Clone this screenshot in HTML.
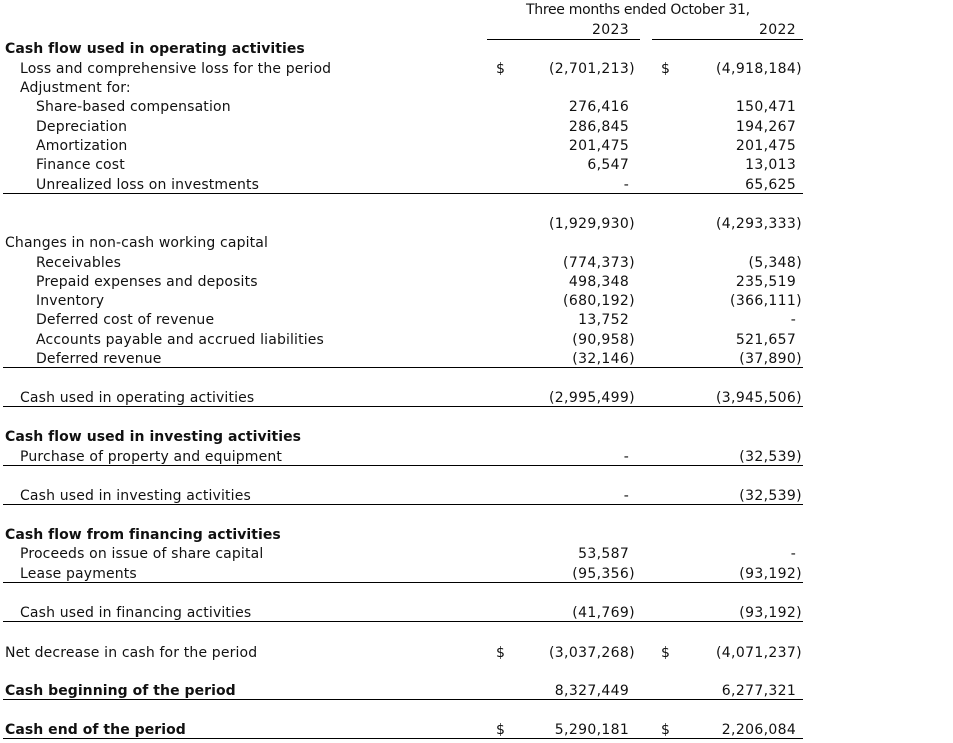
<!DOCTYPE html>
<html><head><meta charset="utf-8"><style>
body{margin:0;width:953px;height:743px;background:#fff;position:relative;overflow:hidden;font-family:"DejaVu Sans","Liberation Sans",sans-serif;font-size:14px;letter-spacing:0.15px;color:#111}
.t{position:absolute;height:19px;line-height:19px;white-space:nowrap;margin-top:1px}
.b{font-weight:bold;letter-spacing:0.05px}
.r1,.r2{position:absolute;height:19px;line-height:19px;white-space:nowrap;margin-top:1px;letter-spacing:0.35px}
.r1{right:318px}
.r2{right:151px}
.h{visibility:hidden}
.l{position:absolute;height:1px;background:#000;left:3px;width:800px}
</style></head><body>
<div class="t" style="left:526px;top:0;letter-spacing:-0.3px">Three months ended October 31,</div>
<div class="r1" style="top:20px;right:324px">2023</div>
<div class="r2" style="top:20px;right:157px">2022</div>
<div class="l" style="top:39px;left:487px;width:153px"></div>
<div class="l" style="top:39px;left:652px;width:151px"></div>

<div class="t b" style="left:5px;top:39px">Cash flow used in operating activities</div>
<div class="t" style="left:20px;top:59px">Loss and comprehensive loss for the period</div>
<div class="t" style="left:496px;top:59px">$</div><div class="r1" style="top:59px">(2,701,213)</div>
<div class="t" style="left:661px;top:59px">$</div><div class="r2" style="top:59px">(4,918,184)</div>
<div class="t" style="left:20px;top:78px">Adjustment for:</div>
<div class="t" style="left:36px;top:97px">Share-based compensation</div><div class="r1" style="top:97px">276,416<span class="h">)</span></div><div class="r2" style="top:97px">150,471<span class="h">)</span></div>
<div class="t" style="left:36px;top:117px">Depreciation</div><div class="r1" style="top:117px">286,845<span class="h">)</span></div><div class="r2" style="top:117px">194,267<span class="h">)</span></div>
<div class="t" style="left:36px;top:136px">Amortization</div><div class="r1" style="top:136px">201,475<span class="h">)</span></div><div class="r2" style="top:136px">201,475<span class="h">)</span></div>
<div class="t" style="left:36px;top:155px">Finance cost</div><div class="r1" style="top:155px">6,547<span class="h">)</span></div><div class="r2" style="top:155px">13,013<span class="h">)</span></div>
<div class="t" style="left:36px;top:175px">Unrealized loss on investments</div><div class="r1" style="top:175px">-<span class="h">)</span></div><div class="r2" style="top:175px">65,625<span class="h">)</span></div>
<div class="l" style="top:193px"></div>
<div class="r1" style="top:214px">(1,929,930)</div><div class="r2" style="top:214px">(4,293,333)</div>
<div class="t" style="left:5px;top:233px">Changes in non-cash working capital</div>
<div class="t" style="left:36px;top:253px">Receivables</div><div class="r1" style="top:253px">(774,373)</div><div class="r2" style="top:253px">(5,348)</div>
<div class="t" style="left:36px;top:272px">Prepaid expenses and deposits</div><div class="r1" style="top:272px">498,348<span class="h">)</span></div><div class="r2" style="top:272px">235,519<span class="h">)</span></div>
<div class="t" style="left:36px;top:291px">Inventory</div><div class="r1" style="top:291px">(680,192)</div><div class="r2" style="top:291px">(366,111)</div>
<div class="t" style="left:36px;top:310px">Deferred cost of revenue</div><div class="r1" style="top:310px">13,752<span class="h">)</span></div><div class="r2" style="top:310px">-<span class="h">)</span></div>
<div class="t" style="left:36px;top:330px">Accounts payable and accrued liabilities</div><div class="r1" style="top:330px">(90,958)</div><div class="r2" style="top:330px">521,657<span class="h">)</span></div>
<div class="t" style="left:36px;top:349px">Deferred revenue</div><div class="r1" style="top:349px">(32,146)</div><div class="r2" style="top:349px">(37,890)</div>
<div class="l" style="top:367px"></div>
<div class="t" style="left:20px;top:388px">Cash used in operating activities</div><div class="r1" style="top:388px">(2,995,499)</div><div class="r2" style="top:388px">(3,945,506)</div>
<div class="l" style="top:406px"></div>
<div class="t b" style="left:5px;top:427px">Cash flow used in investing activities</div>
<div class="t" style="left:20px;top:447px">Purchase of property and equipment</div><div class="r1" style="top:447px">-<span class="h">)</span></div><div class="r2" style="top:447px">(32,539)</div>
<div class="l" style="top:465px"></div>
<div class="t" style="left:20px;top:486px">Cash used in investing activities</div><div class="r1" style="top:486px">-<span class="h">)</span></div><div class="r2" style="top:486px">(32,539)</div>
<div class="l" style="top:504px"></div>
<div class="t b" style="left:5px;top:525px">Cash flow from financing activities</div>
<div class="t" style="left:20px;top:544px">Proceeds on issue of share capital</div><div class="r1" style="top:544px">53,587<span class="h">)</span></div><div class="r2" style="top:544px">-<span class="h">)</span></div>
<div class="t" style="left:20px;top:564px">Lease payments</div><div class="r1" style="top:564px">(95,356)</div><div class="r2" style="top:564px">(93,192)</div>
<div class="l" style="top:582px"></div>
<div class="t" style="left:20px;top:603px">Cash used in financing activities</div><div class="r1" style="top:603px">(41,769)</div><div class="r2" style="top:603px">(93,192)</div>
<div class="l" style="top:621px"></div>
<div class="t" style="left:5px;top:643px">Net decrease in cash for the period</div>
<div class="t" style="left:496px;top:643px">$</div><div class="r1" style="top:643px">(3,037,268)</div>
<div class="t" style="left:661px;top:643px">$</div><div class="r2" style="top:643px">(4,071,237)</div>
<div class="t b" style="left:5px;top:681px">Cash beginning of the period</div><div class="r1" style="top:681px">8,327,449<span class="h">)</span></div><div class="r2" style="top:681px">6,277,321<span class="h">)</span></div>
<div class="l" style="top:699px"></div>
<div class="t b" style="left:5px;top:720px">Cash end of the period</div>
<div class="t" style="left:496px;top:720px">$</div><div class="r1" style="top:720px">5,290,181<span class="h">)</span></div>
<div class="t" style="left:661px;top:720px">$</div><div class="r2" style="top:720px">2,206,084<span class="h">)</span></div>
<div class="l" style="top:738px"></div>
</body></html>
